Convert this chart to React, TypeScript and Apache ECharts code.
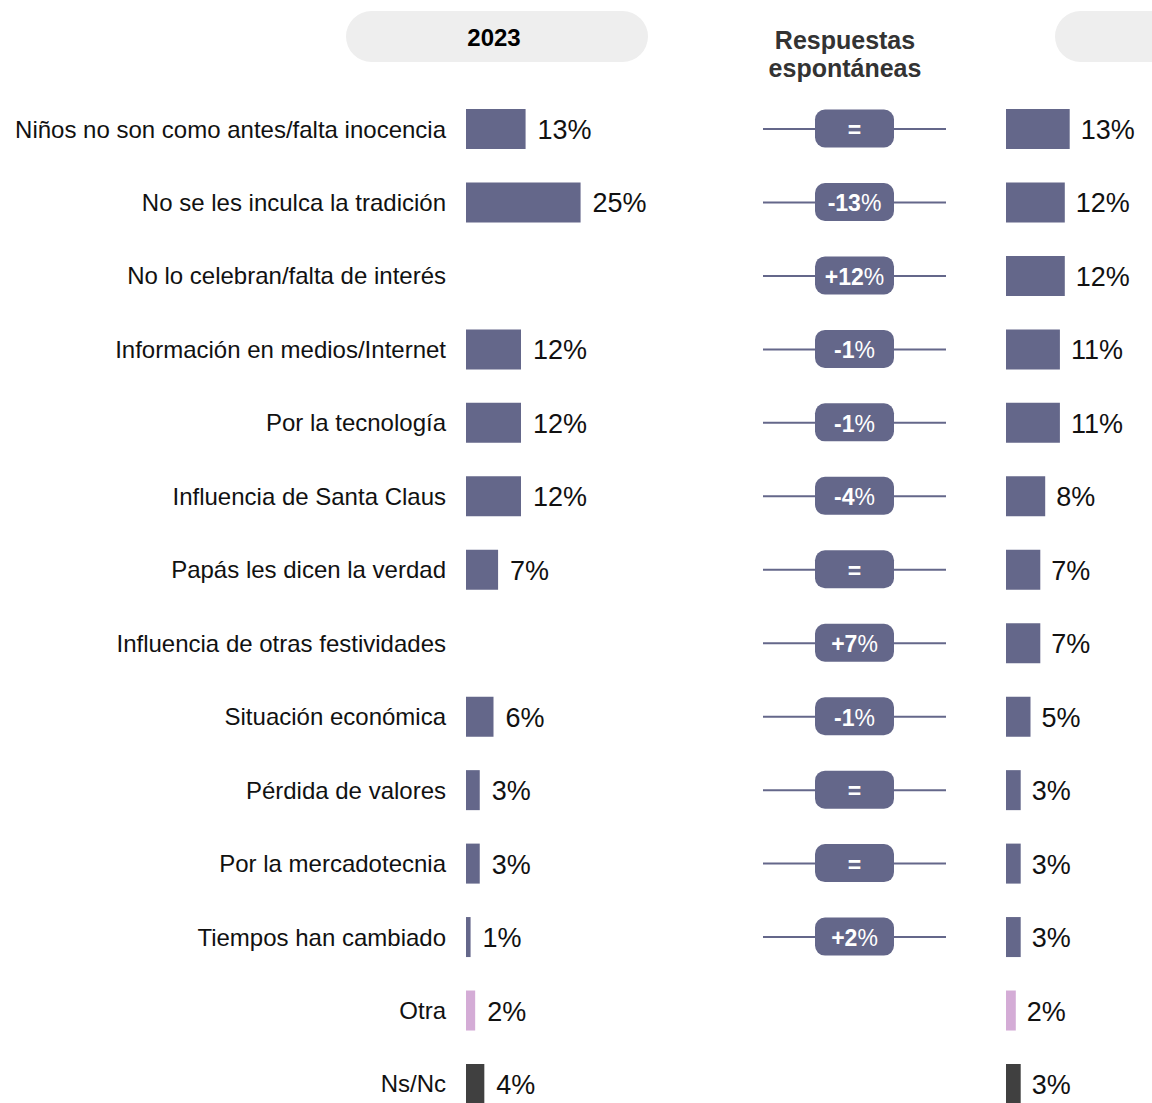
import React, { useEffect, useRef } from "react";
import * as echarts from "echarts";

const categories = [
  "Niños no son como antes/falta inocencia",
  "No se les inculca la tradición",
  "No lo celebran/falta de interés",
  "Información en medios/Internet",
  "Por la tecnología",
  "Influencia de Santa Claus",
  "Papás les dicen la verdad",
  "Influencia de otras festividades",
  "Situación económica",
  "Pérdida de valores",
  "Por la mercadotecnia",
  "Tiempos han cambiado",
  "Otra",
  "Ns/Nc",
];
const values2023: (number | null)[] = [13, 25, null, 12, 12, 12, 7, null, 6, 3, 3, 1, 2, 4];
const values2024: (number | null)[] = [13, 12, 12, 11, 11, 8, 7, 7, 5, 3, 3, 3, 2, 3];
const changes: (string | null)[] = ["=", "-13%", "+12%", "-1%", "-1%", "-4%", "=", "+7%", "-1%", "=", "=", "+2%", null, null];
const headerLeft = "2023";
const middleTitle = "Respuestas\nespontáneas";

const FONT = "'Liberation Sans', Arial, Helvetica, sans-serif";
const BAR = "#64678a";
const OTRA = "#d4acd6";
const NSNC = "#404040";

function barColor(i: number) {
  if (categories[i] === "Otra") return OTRA;
  if (categories[i] === "Ns/Nc") return NSNC;
  return BAR;
}

export default function App() {
  const ref = useRef<HTMLDivElement>(null);
  useEffect(() => {
    if (!ref.current) return;
    const chart = echarts.init(ref.current, null, { renderer: "svg" });
    const TOP = 92.3;
    const H = 1028.4;
    const changeItems = changes
      .map((c, i) => ({ value: [0.5, i], name: c }))
      .filter((d) => d.name != null);

    const richText = (c: string) => {
      if (c.endsWith("%")) return `{b|${c.slice(0, -1)}}{r|%}`;
      return `{b|${c}}`;
    };

    const yBase = {
      type: "category",
      data: categories,
      inverse: true,
      axisLine: { show: false },
      axisTick: { show: false },
      splitLine: { show: false },
    };

    chart.setOption({
      animation: false,
      textStyle: { fontFamily: FONT },
      grid: [
        { left: 466, top: TOP, width: 137.5, height: H },
        { left: 763, top: TOP, width: 183, height: H },
        { left: 1006, top: TOP, width: 98, height: H },
      ],
      xAxis: [
        { type: "value", gridIndex: 0, min: 0, max: 30, show: false },
        { type: "value", gridIndex: 1, min: 0, max: 1, show: false },
        { type: "value", gridIndex: 2, min: 0, max: 20, show: false },
      ],
      yAxis: [
        {
          ...yBase,
          gridIndex: 0,
          axisLabel: { show: true, margin: 20, fontSize: 24, color: "#111", fontFamily: FONT },
        },
        { ...yBase, gridIndex: 1, axisLabel: { show: false } },
        { ...yBase, gridIndex: 2, axisLabel: { show: false } },
      ],
      graphic: [
        {
          type: "rect",
          shape: { x: 346, y: 11, width: 302, height: 51, r: 25.5 },
          style: { fill: "#eeeeee" },
        },
        {
          type: "text",
          x: 494,
          y: 37,
          style: {
            text: headerLeft,
            fontSize: 24,
            fontWeight: "bold",
            fontFamily: FONT,
            fill: "#000",
            align: "center",
            verticalAlign: "middle",
          },
        },
        {
          type: "rect",
          shape: { x: 1055, y: 11, width: 200, height: 51, r: 25.5 },
          style: { fill: "#eeeeee" },
        },
        {
          type: "text",
          x: 845,
          y: 54,
          style: {
            text: middleTitle,
            fontSize: 25,
            lineHeight: 28,
            fontWeight: "bold",
            fontFamily: FONT,
            fill: "#333",
            align: "center",
            verticalAlign: "middle",
          },
        },
      ],
      series: [
        {
          type: "bar",
          xAxisIndex: 0,
          yAxisIndex: 0,
          barWidth: 40,
          data: values2023.map((v, i) => ({ value: v, itemStyle: { color: barColor(i) } })),
          label: {
            show: true,
            position: "right",
            distance: 12,
            offset: [0, 1],
            formatter: "{c}%",
            fontSize: 27,
            color: "#111",
            fontFamily: FONT,
          },
        },
        {
          type: "custom",
          xAxisIndex: 1,
          yAxisIndex: 1,
          data: changeItems,
          renderItem: (params: any, api: any) => {
            const idx = api.value(1);
            const c = api.coord([0.5, idx]);
            const l = api.coord([0, idx]);
            const r = api.coord([1, idx]);
            const label = changeItems[params.dataIndex].name as string;
            return {
              type: "group",
              children: [
                {
                  type: "line",
                  shape: { x1: l[0], y1: c[1], x2: r[0], y2: c[1] },
                  style: { stroke: BAR, lineWidth: 2 },
                },
                {
                  type: "rect",
                  shape: { x: c[0] - 39.5, y: c[1] - 19.5, width: 79, height: 38, r: 10 },
                  style: { fill: BAR },
                },
                {
                  type: "text",
                  x: c[0],
                  y: c[1] + 1,
                  style: {
                    text: richText(label),
                    align: "center",
                    verticalAlign: "middle",
                    fill: "#fff",
                    fontSize: 23,
                    fontFamily: FONT,
                    rich: {
                      b: { fontWeight: "bold", fontSize: 23, fill: "#fff", fontFamily: FONT },
                      r: { fontWeight: "normal", fontSize: 23, fill: "#fff", fontFamily: FONT },
                    },
                  },
                },
              ],
            };
          },
        },
        {
          type: "bar",
          xAxisIndex: 2,
          yAxisIndex: 2,
          barWidth: 40,
          data: values2024.map((v, i) => ({ value: v, itemStyle: { color: barColor(i) } })),
          label: {
            show: true,
            position: "right",
            distance: 11,
            offset: [0, 1],
            formatter: "{c}%",
            fontSize: 27,
            color: "#111",
            fontFamily: FONT,
          },
        },
      ],
    });
    return () => chart.dispose();
  }, []);
  return (
    <div style={{ position: "absolute", left: 0, top: 0, width: 1152, height: 1103, overflow: "hidden" }}>
      <div ref={ref} style={{ width: 1152, height: 1140 }} />
    </div>
  );
}
